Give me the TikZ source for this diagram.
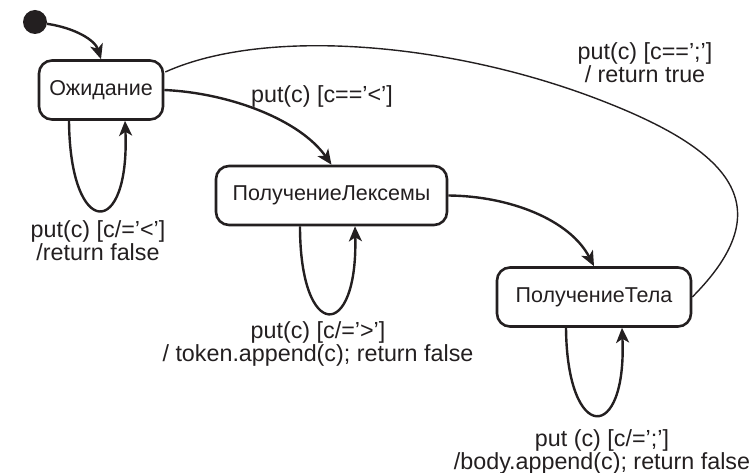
\documentclass[tikz,border=0pt]{standalone}
\usepackage{fontspec}
\setmainfont{Liberation Sans}
\usetikzlibrary{arrows.meta,calc}
\definecolor{ink}{HTML}{231F20}
\begin{document}
\begin{tikzpicture}[x=1pt,y=-1pt,
  statebox/.style={draw=ink,line width=2.6pt,rounded corners=13pt,inner sep=0pt,
    minimum height=59pt,text=ink,font=\fontsize{21.5}{24}\selectfont},
  conn/.style={draw=ink,line width=2.4pt,-{Stealth[length=15pt,width=13pt,inset=4pt]}},
  thinconn/.style={draw=ink,line width=1.4pt},
  lbl/.style={text=ink,align=center,inner sep=0pt,font=\fontsize{23.3}{23}\selectfont}]
\useasboundingbox (0,0) rectangle (753,473);
\node[circle,fill=ink,minimum size=24pt,inner sep=0pt] (init) at (35,22) {};
\node[statebox,minimum width=124pt] (ozh) at (101,90) {Ожидание};
\node[statebox,minimum width=231pt] (lex) at (331.5,195.5) {ПолучениеЛексемы};
\node[statebox,minimum width=194pt] (tela) at (594,297) {ПолучениеТела};
% initial
\draw[conn] (init) .. controls (75,28) and (95,40) .. (ozh.north);
% ozh -> lex
\draw[conn] (ozh.east) .. controls (230,93) and (300,120) .. (lex.north);
\node[lbl] (l1) at (322,96) {put(c) [c=='<']};
% lex -> tela
\draw[conn] (lex.east) .. controls (510,196) and (570,220) .. (tela.north);
% tela -> ozh (thin)
\coordinate (ozhtop) at ($(ozh.east)+(1,-18)$);
\coordinate (midpt) at (600,100);
\draw[thinconn] (tela.east) .. controls (783,206) and (730,150) .. (midpt)
  .. controls (450,42) and (265,27) .. (ozhtop);
\node[lbl] (l2) at (645,63) {put(c) [c==';']\\/ return true};
% self loops
\draw[conn] ($(ozh.south)+(-32,0)$) .. controls (70,240) and (130,240) .. ($(ozh.south)+(24,0)$);
\node[lbl] (l3) at (98,241) {put(c) [c/='<']\\/return false};
\draw[conn] ($(lex.south)+(-31.5,0)$) .. controls (300,342) and (358,342) .. ($(lex.south)+(23.5,0)$);
\node[lbl] (l4) at (318,344) {put(c) [c/='>']\\/ token.append(c); return false};
\draw[conn] ($(tela.south)+(-28,0)$) .. controls (567,444) and (627,444) .. ($(tela.south)+(28,0)$);
\node[lbl] (l5) at (602,452) {put (c) [c/=';']\\/body.append(c); return false};
\end{tikzpicture}
\end{document}
